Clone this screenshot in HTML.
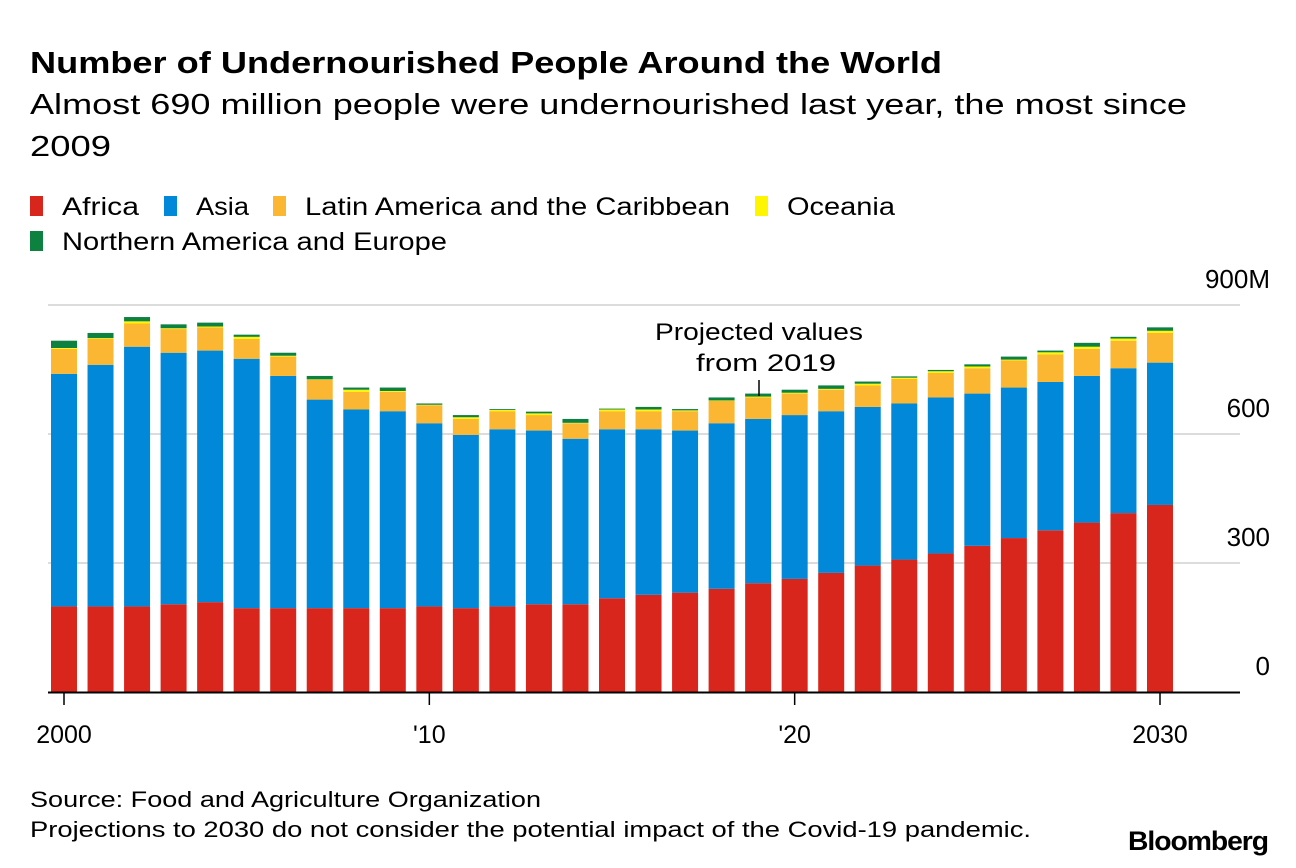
<!DOCTYPE html>
<html><head><meta charset="utf-8"><style>
html,body{margin:0;padding:0;background:#fff;}
svg{display:block;font-family:"Liberation Sans",sans-serif;}
</style></head><body>
<svg id="chart" width="1296" height="868" viewBox="0 0 1296 868" xmlns="http://www.w3.org/2000/svg">
<text x="30" y="73" font-size="31" font-weight="bold" fill="#000" textLength="912" lengthAdjust="spacingAndGlyphs">Number of Undernourished People Around the World</text>
<text x="30" y="114" font-size="29" fill="#000" textLength="1157" lengthAdjust="spacingAndGlyphs">Almost 690 million people were undernourished last year, the most since</text>
<text x="30" y="156" font-size="29" fill="#000" textLength="81" lengthAdjust="spacingAndGlyphs">2009</text>
<g id="legend"></g>
<g id="grid"></g>
<g id="bars"></g>
<g id="xaxis"></g>
<line x1="759" y1="380" x2="759" y2="396" stroke="#000" stroke-width="1.5"/>
<text x="759" y="340" font-size="24" text-anchor="middle" textLength="208" lengthAdjust="spacingAndGlyphs">Projected values</text>
<text x="766" y="371" font-size="24" text-anchor="middle" textLength="140" lengthAdjust="spacingAndGlyphs">from 2019</text>
<text x="30" y="807" font-size="22" textLength="511" lengthAdjust="spacingAndGlyphs">Source: Food and Agriculture Organization</text>
<text x="30" y="837" font-size="22" textLength="1001" lengthAdjust="spacingAndGlyphs">Projections to 2030 do not consider the potential impact of the Covid-19 pandemic.</text>
<text x="1268" y="850" font-size="27" font-weight="bold" text-anchor="end" textLength="140" lengthAdjust="spacingAndGlyphs" letter-spacing="-1">Bloomberg</text>
</svg>
<script>
const years=[2000,2001,2002,2003,2004,2005,2006,2007,2008,2009,2010,2011,2012,2013,2014,2015,2016,2017,2018,2019,2020,2021,2022,2023,2024,2025,2026,2027,2028,2029,2030];
const africa=[199,199,199,204,209,195,195,195,195,195,199,195,199,204,204,218,226,231,240,253,263,277,294,308,322,340,358,376,394,416,435];
const asia=[541,562,604,585,585,580,540,485,462,458,426,403,412,404,385,393,385,377,385,382,381,376,369,363,363,354,350,345,341,337,331];
const latam=[58,60,54,55,54,46,45,46,41,45,42,37,42,36,36,42,42,45,52,50,50,50,50,57,57,59,63,64,63,64,69];
const oceania=[2,2,5,2,2,5,2,1,5,2,1,4,3,4,1,4,4,2,1,2,2,2,4,3,4,4,2,5,5,5,5];
const nae=[17,12,10,9,9,5,7,8,5,8,3,5,2,4,9,2,6,3,7,7,7,8,5,3,3,5,7,4,9,4,8];
const yTicks=[0,300,600,900];
const yTickLabels=["0","300","600","900M"];
const xTickYears=[2000,2010,2020,2030];
const xTickLabels=["2000","'10","'20","2030"];
const seriesNames=["Africa","Asia","Latin America and the Caribbean","Oceania","Northern America and Europe"];
const seriesColors=["#d9261c","#0288d9","#fbb731","#fef500","#0d8140"];

const NS="http://www.w3.org/2000/svg";
const y0=692,yPerUnit=(692-305)/900;
function yScale(v){return y0-v*yPerUnit;}
function xScale(yr){return 64+(yr-2000)*(1160-64)/30;}
const barW=26;
function mk(tag,attrs,parent){const e=document.createElementNS(NS,tag);for(const k in attrs)e.setAttribute(k,attrs[k]);parent.appendChild(e);return e;}

const grid=document.getElementById('grid');
yTicks.forEach((t,i)=>{
  if(t>0){const l=mk('line',{x1:48,x2:1240,y1:yScale(t),y2:yScale(t),stroke:'#dcdcdc','stroke-width':2},grid);
  
  }
  const tx=mk('text',{x:1270,y:yScale(t)-17,'font-size':26,'text-anchor':'end'},grid);
  tx.textContent=yTickLabels[i];
  
  
});

const bars=document.getElementById('bars');
const series=[africa,asia,latam,oceania,nae];
years.forEach((yr,i)=>{
  let base=0;
  series.forEach((s,k)=>{
    const v=s[i];
    const r=mk('rect',{x:xScale(yr)-barW/2,y:yScale(base+v),width:barW,height:Math.max(0,yScale(base)-yScale(base+v)),fill:seriesColors[k]},bars);
    
    
    base+=v;
  });
});

const xaxis=document.getElementById('xaxis');
const al=mk('line',{x1:48,x2:1240,y1:692.5,y2:692.5,stroke:'#000','stroke-width':2},xaxis);


xTickYears.forEach((yr,i)=>{
  const l=mk('line',{x1:xScale(yr),x2:xScale(yr),y1:692,y2:705,stroke:'#000','stroke-width':1.5},xaxis);
  
  
  const t=mk('text',{x:xScale(yr),y:743,'font-size':25,'text-anchor':'middle'},xaxis);
  t.textContent=xTickLabels[i];
  
  
});

const legend=document.getElementById('legend');
const legPos=[[30,62,77,207],[164,196,53,207],[273,305,425,207],[755,787,108,207],[30,62,385,242]];
seriesNames.forEach((n,k)=>{
  const p=legPos[k];
  const r=mk('rect',{x:p[0],y:p[3]-11,width:13,height:20,fill:seriesColors[k]},legend);
  
  
  const t=mk('text',{x:p[1],y:p[3]+8,'font-size':25,textLength:p[2],lengthAdjust:'spacingAndGlyphs'},legend);
  t.textContent=n;
  
  
});
</script>
</body></html>
